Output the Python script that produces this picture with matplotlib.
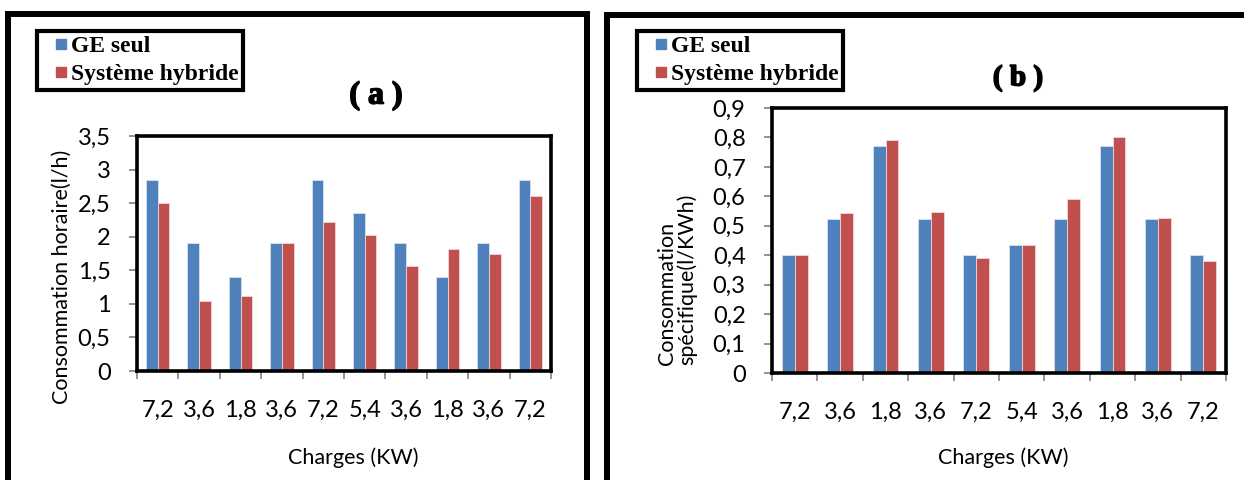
import matplotlib
matplotlib.use("Agg")
import matplotlib.pyplot as plt
import matplotlib.patheffects as pe
from matplotlib.patches import Rectangle
from matplotlib.lines import Line2D
import numpy as np

# data
charges = ["7,2", "3,6", "1,8", "3,6", "7,2", "5,4", "3,6", "1,8", "3,6", "7,2"]

horaire_ge = [2.85, 1.9, 1.4, 1.9, 2.85, 2.35, 1.9, 1.4, 1.9, 2.85]
horaire_hyb = [2.5, 1.05, 1.12, 1.9, 2.22, 2.02, 1.56, 1.81, 1.74, 2.61]

specif_ge = [0.40, 0.522, 0.772, 0.522, 0.40, 0.436, 0.522, 0.772, 0.522, 0.40]
specif_hyb = [0.40, 0.542, 0.793, 0.548, 0.392, 0.436, 0.591, 0.803, 0.527, 0.382]

yticks_a = [0, 0.5, 1, 1.5, 2, 2.5, 3, 3.5]
yticks_b = [0, 0.1, 0.2, 0.3, 0.4, 0.5, 0.6, 0.7, 0.8, 0.9]

series_names = ["GE seul", "Système hybride"]
colors = ["#4F81BD", "#C0504D"]

W, H = 1244, 480
TICK_FONT = "Lato"
SERIF = "Liberation Serif"


def fx(px):
    return px / W


def fy(py):
    return 1 - py / H


def comma(v):
    return ("%g" % v).replace(".", ",")


def draw_panel(fig, rect, ge, hyb, yticks):
    ax = fig.add_axes(rect)
    x = np.arange(len(charges))
    w = 0.285
    ax.bar(x - w / 2, ge, w, color=colors[0], edgecolor="#d8e2f0", linewidth=0.6)
    ax.bar(x + w / 2, hyb, w, color=colors[1], edgecolor="#f0d8d8", linewidth=0.6)

    ax.set_xlim(-0.5, len(charges) - 0.5)
    ax.set_ylim(yticks[0], yticks[-1])
    ax.set_yticks(yticks)
    ax.set_yticklabels([comma(v) for v in yticks], fontfamily=TICK_FONT, fontsize=17)
    ax.set_xticks(x)
    ax.set_xticklabels(charges, fontfamily=TICK_FONT, fontsize=17)
    ax.set_xticks(np.arange(len(charges) + 1) - 0.5, minor=True)

    ax.tick_params(axis="x", which="major", length=0, pad=21)
    ax.tick_params(axis="x", which="minor", length=6, width=1.2, color="#808080", direction="out")
    ax.tick_params(axis="y", length=6, width=1.2, color="#808080", direction="out", pad=13)
    for sp in ax.spines.values():
        sp.set_linewidth(2.6)
        sp.set_color("black")
    return ax


def add_legend(fig, x0):
    handles = [Line2D([], [], ls="none", marker="s", markersize=6.5, color=c) for c in colors]
    leg = fig.legend(handles, series_names, loc="upper left", bbox_to_anchor=(fx(x0), fy(31)),
                     prop={"family": SERIF, "weight": "bold", "size": 17}, fancybox=False,
                     edgecolor="black", handlelength=1.7, handletextpad=-0.42,
                     labelspacing=0.3, borderpad=0.18, borderaxespad=0, framealpha=1)
    leg.get_frame().set_linewidth(3)
    return leg


def add_title(fig, x, y, s, size):
    fig.text(fx(x), fy(y), s, ha="center", va="center", fontfamily=SERIF, fontweight="bold",
             fontsize=size, path_effects=[pe.withStroke(linewidth=1.2, foreground="black")])


fig = plt.figure(figsize=(W / 100, H / 100), dpi=100)

# outer frames of the two panels
fig.add_artist(Rectangle((fx(8), fy(520)), fx(587) - fx(8), fy(14) - fy(520),
                         transform=fig.transFigure, fill=False, lw=4.3, ec="black"))
fig.add_artist(Rectangle((fx(607), fy(520)), fx(1300) - fx(607), fy(15) - fy(520),
                         transform=fig.transFigure, fill=False, lw=4.3, ec="black"))

# panel (a)
draw_panel(fig, [fx(137), fy(371), fx(551) - fx(137), fy(136) - fy(371)],
           horaire_ge, horaire_hyb, yticks_a)
fig.text(fx(62), fy(277), "Consommation horaire(l/h)", rotation=90, ha="center", va="center",
         fontfamily=TICK_FONT, fontsize=15.5)
fig.text(fx(353), fy(458), "Charges (KW)", ha="center", va="center", fontfamily=TICK_FONT,
         fontsize=15.5)
add_title(fig, 376, 96, "( a )", 23)
add_legend(fig, 37)

# panel (b)
draw_panel(fig, [fx(772), fy(373), fx(1226) - fx(772), fy(108) - fy(373)],
           specif_ge, specif_hyb, yticks_b)
fig.text(fx(677), fy(365), "Consommation\nspécifique(l/KWh)", rotation=90, ha="center",
         va="bottom", multialignment="left", fontfamily=TICK_FONT, fontsize=15.5,
         linespacing=1.0)
fig.text(fx(1003), fy(458), "Charges (KW)", ha="center", va="center", fontfamily=TICK_FONT,
         fontsize=15.5)
add_title(fig, 1018, 78, "( b )", 21)
add_legend(fig, 637)

fig.savefig("out.png", dpi=100)
